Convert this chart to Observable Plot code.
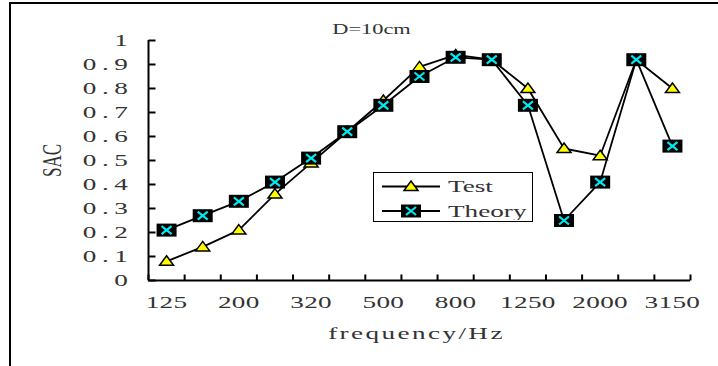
<!DOCTYPE html>
<html>
<head>
<meta charset="utf-8">
<script src="https://cdn.jsdelivr.net/npm/d3@7"></script>
<script src="https://cdn.jsdelivr.net/npm/@observablehq/plot@0.6"></script>
<style>
  body { margin: 0; background: #fff; }
  #wrap { position: relative; width: 718px; height: 366px; overflow: hidden; background: #fff; }
  #frame { position: absolute; left: 9px; top: 2px; width: 800px; height: 500px; border-top: 2px solid #000; border-left: 2px solid #000; box-sizing: border-box; }
  #legend { position: absolute; left: 373px; top: 172px; width: 160px; height: 50px; box-sizing: border-box; border: 1.5px solid #000; background: #fff; }
  #chart { position: absolute; left: 0; top: 0; }
</style>
</head>
<body>
<div id="wrap">
  <div id="frame"></div>
  <div id="chart"></div>
  <div id="legend"></div>
</div>
<script>
// ---- data ----
const categories = ["125","160","200","250","320","400","500","630","800","1000","1250","1600","2000","2500","3150"];
const tickLabels = ["125","200","320","500","800","1250","2000","3150"];
const testValues   = [0.08,0.14,0.21,0.36,0.49,0.62,0.75,0.89,0.94,0.92,0.80,0.55,0.52,0.92,0.80];
const theoryValues = [0.21,0.27,0.33,0.41,0.51,0.62,0.73,0.85,0.93,0.92,0.73,0.25,0.41,0.92,0.56];
const yTicks = [0,0.1,0.2,0.3,0.4,0.5,0.6,0.7,0.8,0.9,1];
const seriesNames = ["Test","Theory"];
const titleText = "D=10cm";
const xLabel = "frequency/Hz";
const yLabel = "SAC";

const data = categories.map((c, i) => ({i, c, test: testValues[i], theory: theoryValues[i]}));
const boundaries = d3.range(categories.length + 1).map(i => i - 0.5);
const labelIdx = tickLabels.map(t => categories.indexOf(t));

// ---- symbols ----
const triSym = {draw(ctx) { ctx.moveTo(0, -5.5); ctx.lineTo(7, 4); ctx.lineTo(-7, 4); ctx.closePath(); }};
const rectSym = {draw(ctx) { ctx.rect(-10, -6.5, 20, 13); }};
const crossSym = {draw(ctx) { ctx.moveTo(-5, -4); ctx.lineTo(5, 4); ctx.moveTo(5, -4); ctx.lineTo(-5, 4); }};
const hTick = {draw(ctx) { ctx.moveTo(0, 0); ctx.lineTo(7, 0); }};
const vTick = {draw(ctx) { ctx.moveTo(0, 0); ctx.lineTo(0, -6); }};

const FONT = "Liberation Serif";
const txt = {fontFamily: FONT, fill: "#333"};
const SX = 1.6; // horizontal glyph stretch

const chart = Plot.plot({
  width: 718, height: 366,
  marginLeft: 148, marginRight: 28, marginTop: 40, marginBottom: 86,
  x: {type: "linear", domain: [-0.5, categories.length - 0.5], axis: null},
  y: {domain: [0, 1], axis: null},
  style: {background: "transparent", fontFamily: FONT},
  marks: [
    Plot.ruleY([0], {stroke: "#000", strokeWidth: 2}),
    Plot.ruleX([-0.5], {stroke: "#000", strokeWidth: 2}),
    Plot.dot(yTicks, {y: d => d, frameAnchor: "left", symbol: hTick, stroke: "#000", strokeWidth: 2, fill: "none"}),
    Plot.dot(boundaries, {x: d => d, frameAnchor: "bottom", symbol: vTick, stroke: "#000", strokeWidth: 2, fill: "none"}),
    Plot.text(yTicks, {y: d => d, frameAnchor: "left", text: d => String(d), textAnchor: "end", dx: -15, fontSize: 17, ...txt}),
    Plot.text(labelIdx, {x: d => d, frameAnchor: "bottom", text: d => categories[d], dy: 27, fontSize: 17, ...txt}),
    Plot.text([xLabel], {frameAnchor: "bottom", text: d => d, dy: 58, dx: -3, fontSize: 17, ...txt}),
    Plot.text([yLabel], {frameAnchor: "left", text: d => d, textAnchor: "middle", dx: -96, rotate: -90, fontSize: 17, ...txt}),
    Plot.text([titleText], {frameAnchor: "top", text: d => d, dy: -16, dx: -48, fontSize: 14, ...txt}),
    Plot.line(data, {x: "i", y: "test", stroke: "#000", strokeWidth: 1.8}),
    Plot.line(data, {x: "i", y: "theory", stroke: "#000", strokeWidth: 1.8}),
    Plot.dot(data, {x: "i", y: "test", symbol: triSym, fill: "#ffff00", stroke: "#000", strokeWidth: 1.5}),
    Plot.dot(data, {x: "i", y: "theory", symbol: rectSym, fill: "#000", stroke: "none"}),
    Plot.dot(data, {x: "i", y: "theory", symbol: crossSym, fill: "none", stroke: "#00e8f0", strokeWidth: 2.2})
  ]
});
document.getElementById("chart").appendChild(chart);

// stretch the text glyphs horizontally like the original figure
const textGroups = d3.select(chart).selectAll('g[aria-label="text"]').nodes();
const textStyle = [
  {sx: SX, sy: 1, ls: 3.5},   // y tick labels
  {sx: SX, sy: 1, ls: 0.2},   // x tick labels
  {sx: SX, sy: 1, ls: 1.5},   // x axis title
  {sx: 1, sy: SX, ls: 0},     // y axis title (rotated)
  {sx: SX, sy: 1, ls: 0}      // chart title
];
textGroups.forEach((g, k) => {
  const s = textStyle[k];
  if (!s) return;
  d3.select(g).selectAll("text")
    .attr("transform", function() { return this.getAttribute("transform") + ` scale(${s.sx},${s.sy})`; })
    .attr("letter-spacing", s.ls);
});

// ---- legend ----
const lg = d3.select("#legend").append("svg").attr("width", 157).attr("height", 47).style("display", "block");
const rows = lg.selectAll("g").data(seriesNames).join("g")
  .attr("transform", (d, k) => `translate(0,${13.5 + k * 24.5})`);
rows.append("line").attr("x1", 8).attr("x2", 66).attr("stroke", "#000").attr("stroke-width", 1.8);
rows.filter((d, k) => k === 0).append("path").attr("d", d3.symbol(triSym)()).attr("transform", "translate(37,0)")
  .attr("fill", "#ffff00").attr("stroke", "#000").attr("stroke-width", 1.5);
rows.filter((d, k) => k === 1).append("path").attr("d", d3.symbol(rectSym)()).attr("transform", "translate(37,0)").attr("fill", "#000");
rows.filter((d, k) => k === 1).append("path").attr("d", d3.symbol(crossSym)()).attr("transform", "translate(37,0)")
  .attr("fill", "none").attr("stroke", "#00e8f0").attr("stroke-width", 2.2);
rows.append("text").attr("transform", `translate(74,0) scale(${SX},1)`).attr("dy", "0.33em").text(d => d)
  .attr("font-family", FONT).attr("font-size", 17).attr("fill", "#333");
</script>
</body>
</html>
